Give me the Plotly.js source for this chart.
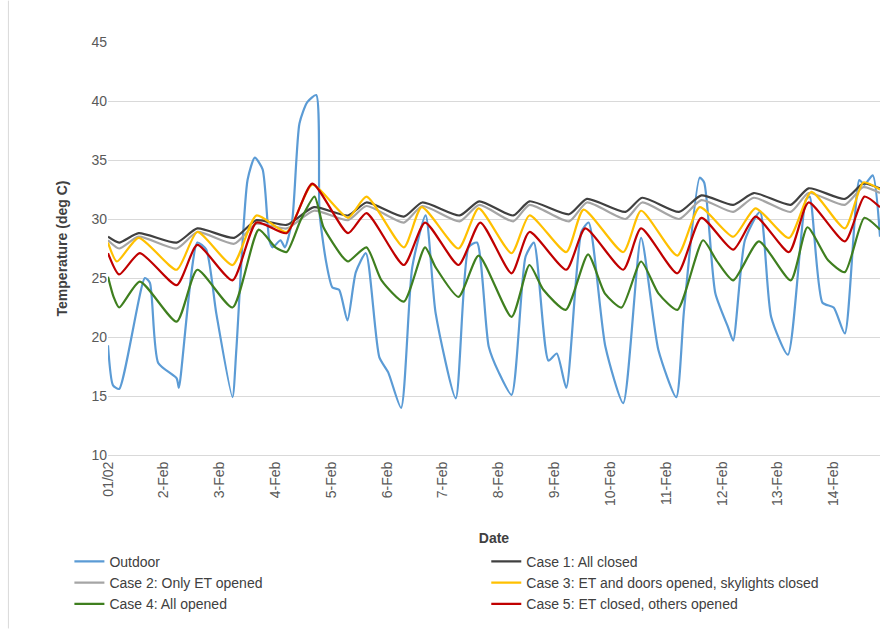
<!DOCTYPE html>
<html>
<head>
<meta charset="utf-8">
<script src="https://cdn.plot.ly/plotly-3.0.1.min.js"></script>
<style>body{margin:0;background:#fff}#plot{width:880px;height:629px}</style>
</head>
<body>
<div id="plot"></div>
<script>
// days since 01/02 at turning points
var outdoorX = [0,0.09,0.2,0.66,0.75,0.9,1.23,1.27,1.6,1.76,1.94,2.23,2.3,2.5,2.63,2.77,2.89,2.95,3.09,3.17,3.3,3.43,3.57,3.73,3.79,3.91,4.02,4.14,4.29,4.44,4.62,4.86,5.02,5.25,5.45,5.69,5.87,6.23,6.46,6.61,6.82,7.0,7.23,7.48,7.63,7.89,8.04,8.21,8.48,8.61,8.91,9.23,9.55,9.86,10.18,10.32,10.6,10.68,10.88,11.11,11.2,11.41,11.68,11.88,12.18,12.5,12.57,12.8,13.0,13.2,13.46,13.55,13.7,13.83];
var outdoorY = [19.3,15.9,15.6,25.0,24.6,17.8,16.5,15.7,28.0,27.4,22.0,14.9,19.0,33.3,35.2,34.2,28.2,27.6,28.2,27.6,29.9,38.1,39.9,40.5,30.5,26.3,24.2,24.0,21.4,25.5,27.1,18.3,17.0,14.0,25.9,30.3,22.0,14.8,27.6,28.0,19.2,17.0,15.1,26.8,28.0,18.0,18.6,15.7,28.9,29.7,19.2,14.4,28.4,18.9,14.9,22.3,33.5,33.1,23.7,20.8,19.7,28.2,30.6,21.7,18.5,31.6,31.9,22.9,22.5,20.3,33.3,32.9,33.7,28.5];

var case1X = [0,0.2,0.55,1.23,1.6,2.26,2.66,3.2,3.69,4.3,4.63,5.3,5.63,6.3,6.65,7.26,7.55,8.26,8.58,9.27,9.57,10.23,10.63,11.2,11.57,12.23,12.55,13.2,13.53,13.83];
var case1Y = [28.5,28.0,28.8,28.0,29.2,28.4,29.9,29.5,31.0,30.3,31.4,30.2,31.4,30.3,31.5,30.3,31.5,30.4,31.7,30.6,31.8,30.6,32.0,31.2,32.2,31.2,32.6,31.7,33.0,32.6];

var case2X = [0,0.2,0.55,1.23,1.6,2.26,2.66,3.2,3.69,4.3,4.63,5.3,5.63,6.3,6.65,7.26,7.55,8.26,8.58,9.27,9.57,10.23,10.63,11.2,11.57,12.23,12.55,13.2,13.53,13.83];
var case2Y = [28.2,27.5,28.5,27.5,28.9,27.9,29.6,29.2,30.7,29.9,31.1,29.7,31.1,29.8,31.2,29.8,31.2,29.8,31.4,30.0,31.4,30.0,31.6,30.6,31.8,30.6,32.2,31.2,32.7,32.2];

var case3X = [0,0.16,0.55,1.23,1.6,2.23,2.66,3.2,3.66,4.3,4.63,5.3,5.62,6.28,6.64,7.23,7.55,8.21,8.52,9.23,9.55,10.2,10.6,11.2,11.6,12.2,12.6,13.2,13.53,13.83];
var case3Y = [28.0,26.4,28.4,25.7,28.9,26.1,30.3,28.9,32.9,30.1,31.9,27.6,31.0,27.5,30.9,27.1,30.3,27.2,30.8,27.2,30.7,26.9,31.0,28.5,30.9,28.4,32.3,29.2,33.1,32.5];

var case4X = [0,0.1,0.2,0.57,1.23,1.6,2.23,2.7,3.0,3.2,3.45,3.7,3.86,4.2,4.3,4.63,4.9,5.3,5.68,5.87,6.28,6.64,7.23,7.55,7.8,8.2,8.6,8.9,9.2,9.55,9.86,10.2,10.66,10.9,11.2,11.66,12.23,12.53,12.9,13.2,13.55,13.83];
var case4Y = [25.1,23.4,22.5,24.7,21.3,25.7,22.5,29.1,27.6,27.2,29.9,31.9,29.3,26.8,26.4,27.6,24.8,23.0,27.6,25.9,23.4,26.9,21.7,26.1,24.0,22.3,27.0,23.7,22.5,26.4,23.7,22.3,28.2,26.5,24.8,28.1,24.8,29.3,26.5,25.5,30.1,29.1];

var case5X = [0,0.2,0.57,1.23,1.6,2.23,2.66,3.2,3.66,4.3,4.63,5.3,5.68,6.28,6.67,7.23,7.55,8.21,8.55,9.23,9.55,10.2,10.63,11.2,11.6,12.2,12.55,13.2,13.55,13.83];
var case5Y = [27.1,25.3,27.1,24.4,27.8,24.8,29.7,28.8,33.0,28.8,30.5,26.1,29.7,26.1,29.7,25.4,28.9,25.7,29.2,25.7,29.2,25.4,30.1,27.4,30.2,27.2,31.4,28.1,31.9,31.0];

var dayTicks = [0,1,2,3,4,5,6,7,8,9,10,11,12,13];
var dayLabels = ['01/02','2-Feb','3-Feb','4-Feb','5-Feb','6-Feb','7-Feb','8-Feb','9-Feb','10-Feb','11-Feb','12-Feb','13-Feb','14-Feb'];

function line(name, x, y, color, legend) {
    return {type:'scatter', mode:'lines', name:name, x:x, y:y, legend:legend,
            line:{color:color, width:2.2, shape:'spline', smoothing:0.6}};
}

var traces = [];
traces.push( line('Outdoor', outdoorX, outdoorY, '#5b9bd5', 'legend') );
traces.push( line('Case 1: All closed', case1X, case1Y, '#404040', 'legend2') );
traces.push( line('Case 2: Only ET opened', case2X, case2Y, '#a5a5a5', 'legend') );
traces.push( line('Case 3: ET and doors opened, skylights closed', case3X, case3Y, '#ffc000', 'legend2') );
traces.push( line('Case 4: All opened', case4X, case4Y, '#3f7f1f', 'legend') );
traces.push( line('Case 5: ET closed, others opened', case5X, case5Y, '#c00000', 'legend2') );

var legendStyle = {
    orientation:'v', yanchor:'top', xanchor:'left', y:-0.22,
    tracegroupgap:0, itemwidth:30, font:{size:14, color:'#404040'}, bgcolor:'rgba(0,0,0,0)'
};

var layout = {
    width: 880, height: 629,
    margin: {l:108, r:0, t:42, b:174, autoexpand:false},
    font: {family:'Liberation Sans, Arial', color:'#595959', size:14},
    paper_bgcolor:'#fff', plot_bgcolor:'#fff',
    showlegend: true,
    xaxis: {
        range:[0,13.83], tickvals:dayTicks, ticktext:dayLabels, tickangle:-90,
        showgrid:false, zeroline:false, showline:true, linecolor:'#d9d9d9',
        title:{text:'<b>Date</b>', font:{size:14, color:'#404040'}, standoff:28}
    },
    yaxis: {
        range:[10,45], dtick:5, gridcolor:'#d9d9d9', zeroline:false,
        title:{text:'<b>Temperature (deg C)</b>', font:{size:14, color:'#404040'}, standoff:20}
    },
    legend: Object.assign({}, legendStyle, {x:-0.05}),
    legend2: Object.assign({}, legendStyle, {x:0.49}),
    shapes: [{type:'line', xref:'paper', yref:'paper', x0:-0.129, x1:-0.129, y0:-0.42, y1:1.1,
              line:{color:'#d9d9d9', width:1}}]
};

Plotly.newPlot('plot', traces, layout, {displayModeBar:false, staticPlot:true});
</script>
</body>
</html>
